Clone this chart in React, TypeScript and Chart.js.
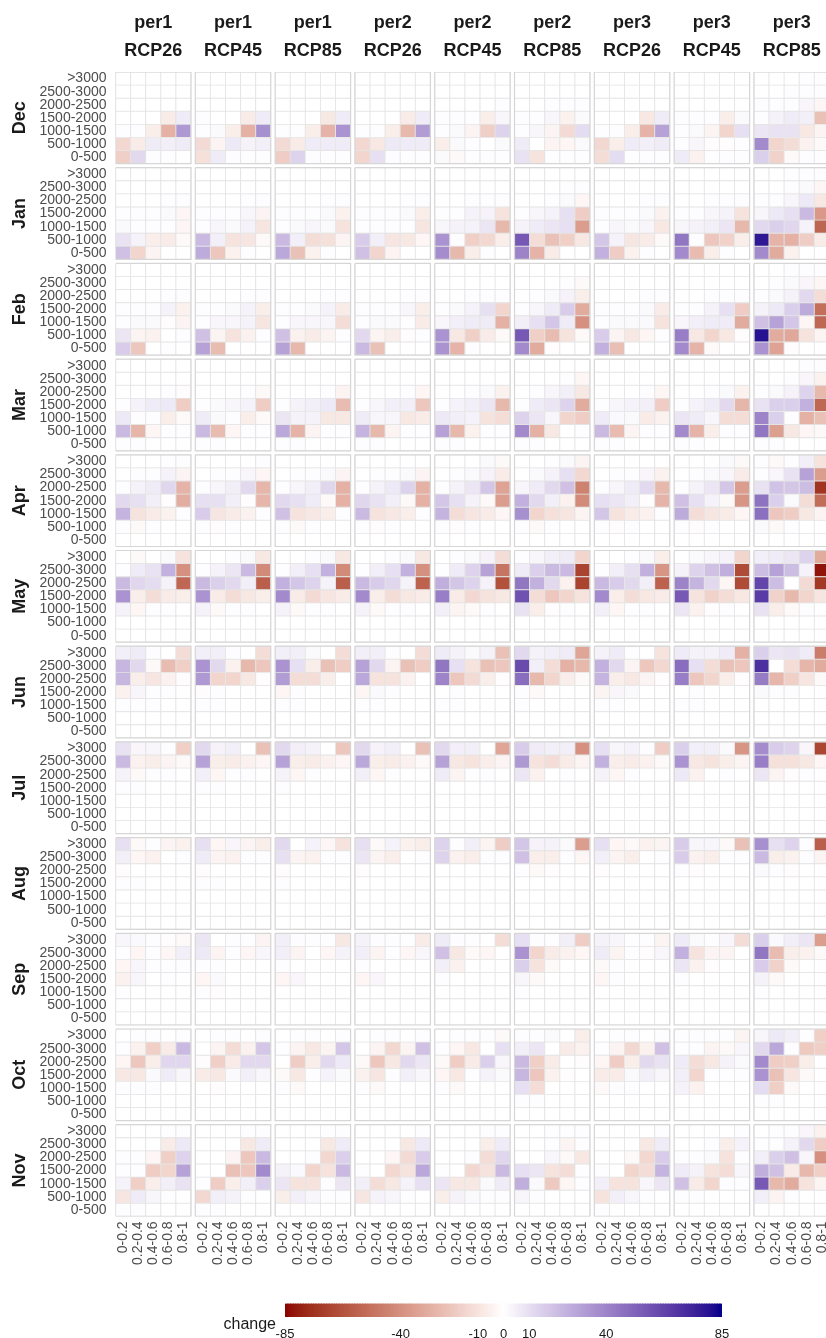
import React, { useEffect, useRef } from 'react';
import { Chart, registerables } from 'chart.js';

Chart.register(...registerables);

// ---------- categories / labels ----------
const MONTHS = ['Dec', 'Jan', 'Feb', 'Mar', 'Apr', 'May', 'Jun', 'Jul', 'Aug', 'Sep', 'Oct', 'Nov'];
const PERIODS = ['per1', 'per1', 'per1', 'per2', 'per2', 'per2', 'per3', 'per3', 'per3'];
const SCENARIOS = ['RCP26', 'RCP45', 'RCP85', 'RCP26', 'RCP45', 'RCP85', 'RCP26', 'RCP45', 'RCP85'];
const ELEVATION_BANDS = ['>3000', '2500-3000', '2000-2500', '1500-2000', '1000-1500', '500-1000', '0-500'];
const FRACTION_BINS = ['0-0.2', '0.2-0.4', '0.4-0.6', '0.6-0.8', '0.8-1'];
const LEGEND_BREAKS = [-85, -40, -10, 0, 10, 40, 85];
const LIMIT = 85;

// ---------- values: each month = 9 panels, each panel = 7 elevation rows (top >3000 .. bottom 0-500) x 5 fraction bins ----------
const DEC = [
  [0,0,0,0,0, 0,0,0,0,0, 0,0,0,0,0, 0,0,0,-7,6, 1,1,-6,-28,33, -14,-7,6,5,6, -17,12,1,1,0],
  [0,0,0,0,0, 0,0,0,0,0, 0,0,0,0,0, 1,0,0,-7,6, 1,2,-6,-28,36, -13,-4,7,4,5, -11,6,1,1,1],
  [0,0,0,0,0, 0,0,0,0,0, 0,0,0,0,0, 0,0,0,-8,6, 1,1,-6,-27,35, -13,-7,6,6,6, -18,14,1,1,1],
  [0,0,0,0,0, 0,0,0,0,0, 0,0,0,0,0, 0,0,0,-7,6, 1,1,-6,-25,32, -14,-8,7,6,6, -15,10,1,1,1],
  [0,0,0,0,0, 0,0,0,0,0, 0,0,0,0,1, 1,1,1,-6,3, 1,2,-4,-17,14, -6,2,1,0,2, 2,-2,1,1,1],
  [0,0,0,0,0, 0,0,0,0,0, 0,0,1,1,1, 1,1,3,-5,2, 1,3,-4,-13,11, 6,0,-4,-3,2, 9,-10,1,1,1],
  [0,0,0,0,0, 0,0,0,0,0, 0,0,0,0,0, 0,0,0,-8,6, 1,1,-6,-27,30, -14,-6,6,5,6, -12,11,1,1,1],
  [0,0,0,0,0, 0,0,0,0,0, 0,0,0,0,0, 1,1,1,-6,2, 1,2,-4,-15,10, 1,3,-1,-1,1, 6,-5,1,1,1],
  [0,0,0,1,1, 0,0,1,1,1, 1,1,1,3,-3, 1,4,6,5,-22, 8,9,9,-8,-4, 38,-15,-12,-5,-2, 15,-16,-2,1,1],
];
const JAN = [
  [0,0,0,0,0, 0,0,0,0,0, 0,0,0,1,1, 1,1,1,2,-3, 2,1,1,1,-3, 9,4,-6,-7,-2, 20,-15,-4,0,0],
  [0,0,0,0,0, 0,0,0,0,0, 0,0,0,1,1, 1,1,1,3,-4, 1,3,2,4,-9, 22,5,-10,-9,-2, 27,-20,-5,1,0],
  [0,0,0,0,0, 0,0,0,0,0, 0,0,0,1,1, 1,1,1,2,-5, 1,2,3,2,-10, 22,5,-12,-11,-4, 28,-22,-5,1,0],
  [0,0,0,0,0, 0,0,0,0,0, 0,0,0,1,1, 1,1,1,2,-6, 1,1,1,1,-9, 16,5,-9,-8,-3, 20,-15,-4,0,0],
  [0,0,0,0,0, 0,0,0,0,0, 0,0,1,1,1, 1,1,4,4,-10, 3,4,4,8,-25, 35,1,-17,-14,-6, 37,-25,-6,1,0],
  [0,0,0,0,0, 0,0,0,1,1, 0,0,1,2,-3, 1,3,4,10,-18, 4,6,8,10,-35, 55,-12,-22,-17,-8, 40,-27,-7,0,0],
  [0,0,0,0,0, 0,0,0,0,0, 0,0,0,1,1, 1,1,1,2,-5, 1,3,2,3,-8, 18,4,-9,-7,-2, 25,-18,-5,1,0],
  [0,0,0,0,0, 0,0,0,0,0, 0,0,1,1,1, 1,1,3,4,-10, 3,4,5,8,-25, 45,1,-20,-16,-6, 38,-24,-6,1,0],
  [0,0,1,1,1, 0,0,1,2,-3, 1,1,3,7,-8, 3,7,10,22,-37, 12,15,13,4,-56, 78,-27,-28,-18,-7, 38,-30,-5,0,0],
];
const FEB = [
  [0,0,0,0,0, 0,0,0,0,0, 0,0,0,1,1, 1,1,1,4,-5, 1,2,2,-1,-4, 8,-4,-5,0,1, 16,-20,0,1,0],
  [0,0,0,0,0, 0,0,0,0,0, 0,0,0,1,1, 1,1,2,4,-6, 1,3,3,4,-9, 20,-4,-10,-5,1, 30,-24,0,0,0],
  [0,0,0,0,0, 0,0,0,0,0, 0,0,0,1,1, 1,1,2,4,-7, 1,3,3,3,-12, 20,-5,-7,-4,1, 30,-25,0,0,0],
  [0,0,0,0,0, 0,0,0,0,0, 0,0,0,1,1, 1,1,1,3,-6, 1,2,2,1,-7, 12,-4,-6,-1,1, 22,-22,0,0,0],
  [0,0,0,0,0, 0,0,0,0,0, 0,0,1,1,1, 1,2,4,10,-15, 3,5,6,6,-28, 35,-8,-17,-7,-2, 35,-27,1,0,0],
  [0,0,0,0,0, 0,0,0,1,-2, 0,1,2,4,-6, 1,3,6,16,-30, 5,10,18,6,-40, 55,-17,-24,-10,-2, 38,-30,-1,0,0],
  [0,0,0,0,0, 0,0,0,0,0, 0,0,0,1,1, 1,1,1,2,-7, 1,2,2,2,-10, 16,-4,-8,-3,1, 25,-23,0,0,0],
  [0,0,0,0,0, 0,0,0,0,0, 0,0,1,1,1, 1,1,4,10,-18, 3,5,6,6,-30, 42,-8,-15,-8,-1, 38,-27,-2,0,0],
  [0,0,1,1,1, 0,1,2,3,-3, 1,2,4,12,-12, 4,7,15,27,-52, 20,30,18,-3,-55, 80,-30,-31,-10,-4, 35,-33,-1,0,0],
];
const MAR = [
  [0,0,0,0,0, 0,0,0,0,0, 0,0,0,1,-1, 1,4,6,7,-18, 7,1,1,-6,-2, 22,-26,-3,1,1, 1,1,0,0,0],
  [0,0,0,0,0, 0,0,0,0,0, 0,0,0,1,-2, 1,2,3,4,-18, 6,2,1,-6,-2, 22,-24,-3,1,1, 1,1,0,0,0],
  [0,0,0,0,0, 0,0,0,0,0, 0,0,0,1,-4, 1,4,5,7,-24, 8,4,4,-8,-8, 28,-27,-4,1,1, 1,1,0,0,0],
  [0,0,0,0,0, 0,0,0,0,0, 0,0,0,1,-3, 1,3,5,5,-20, 6,3,3,-8,-7, 24,-25,-4,1,1, 1,1,0,0,0],
  [0,0,0,0,0, 0,0,0,0,0, 0,0,1,2,-5, 1,4,5,8,-25, 7,5,4,-10,-12, 30,-25,-5,1,1, 1,1,0,0,0],
  [0,0,0,0,0, 0,0,0,1,-3, 0,1,3,5,-8, 1,6,8,14,-30, 14,8,3,-15,-18, 38,-28,-8,0,1, 1,1,0,0,0],
  [0,0,0,0,0, 0,0,0,0,0, 0,0,0,1,-3, 1,3,4,5,-18, 6,2,2,-7,-5, 22,-24,-4,1,1, 1,1,0,0,0],
  [0,0,0,0,0, 0,0,0,0,0, 0,0,1,2,-5, 1,4,6,12,-26, 8,6,3,-12,-12, 38,-27,-6,1,1, 1,1,0,0,0],
  [0,0,0,1,1, 0,0,1,3,-5, 1,2,4,14,-25, 9,15,15,25,-55, 40,15,1,-28,-22, 45,-34,-8,-3,-2, 1,1,0,0,0],
];
const APR = [
  [0,0,0,1,1, 0,1,1,4,-4, 1,4,6,13,-27, 12,10,5,-1,-29, 24,-10,-7,-5,1, 1,-2,1,0,0, 0,0,0,0,0],
  [0,0,0,0,1, 0,1,1,3,-3, 1,3,5,12,-26, 10,10,5,-1,-26, 16,-9,-7,-5,1, 1,-1,1,0,0, 0,0,0,0,0],
  [0,0,0,0,0, 0,1,1,2,-4, 1,3,5,13,-28, 12,10,6,-2,-28, 20,-10,-8,-6,1, 1,-2,1,0,0, 0,0,0,0,0],
  [0,0,0,0,0, 0,1,1,2,-4, 1,4,7,14,-28, 13,9,5,-2,-28, 22,-10,-8,-6,1, 1,-1,1,0,0, 0,0,0,0,0],
  [0,0,0,2,-2, 0,1,2,4,-7, 1,4,8,18,-33, 18,10,4,-2,-35, 24,-12,-9,-7,-3, 1,-1,1,0,0, 0,0,0,0,0],
  [0,0,1,2,-4, 0,2,4,10,-14, 3,6,12,20,-45, 25,12,5,-5,-42, 36,-15,-11,-9,-4, 1,-2,1,0,0, 0,0,0,0,0],
  [0,0,0,0,0, 0,1,1,3,-5, 1,3,6,12,-25, 10,8,5,-1,-27, 18,-10,-7,-5,1, 1,-1,1,0,0, 0,0,0,0,0],
  [0,0,0,2,-2, 0,1,2,3,-7, 1,4,8,18,-35, 20,10,4,-2,-38, 27,-12,-9,-7,-3, 1,-1,1,0,0, 0,0,0,0,0],
  [1,-2,1,5,-10, 1,3,9,30,-35, 9,19,18,21,-73, 46,15,2,-12,-53, 47,-20,-18,-8,-4, 2,-2,1,0,0, 0,0,0,0,0],
];
const MAY = [
  [0,-2,0,2,-10, 1,6,9,25,-40, 22,13,11,4,-55, 35,-6,-12,-7,-6, 4,-3,1,1,0, 0,0,0,0,0, 0,0,0,0,0],
  [0,0,1,2,-8, 1,4,8,22,-42, 22,15,12,5,-58, 35,-7,-12,-8,-6, 4,-2,1,1,0, 0,0,0,0,0, 0,0,0,0,0],
  [0,0,1,2,-8, 1,5,10,25,-42, 25,18,14,4,-58, 38,-7,-13,-9,-7, 4,-2,1,1,0, 0,0,0,0,0, 0,0,0,0,0],
  [0,0,1,2,-8, 1,5,10,25,-40, 22,16,13,4,-57, 38,-6,-12,-8,-7, 4,-2,1,1,0, 0,0,0,0,0, 0,0,0,0,0],
  [0,1,2,4,-12, 1,6,14,30,-50, 26,18,14,4,-63, 42,-7,-14,-10,-8, 5,-4,-2,1,0, 0,0,0,0,0, 0,0,0,0,0],
  [1,3,5,6,-15, 6,15,22,22,-68, 45,25,12,-5,-68, 58,-12,-20,-15,-10, 9,-6,-1,1,0, 0,0,0,0,0, 0,0,0,0,0],
  [0,0,1,2,-6, 1,5,10,25,-38, 22,16,12,5,-57, 38,-6,-12,-8,-7, 5,-3,1,1,0, 0,0,0,0,0, 0,0,0,0,0],
  [0,2,3,4,-15, 4,14,20,26,-65, 40,24,12,-3,-65, 55,-10,-16,-12,-8, 8,-5,-1,1,0, 0,0,0,0,0, 0,0,0,0,0],
  [5,6,8,14,-30, 21,30,21,4,-82, 62,21,0,-13,-72, 66,-16,-25,-15,-9, 9,-6,-2,1,0, 0,0,0,0,0, 0,0,0,0,0],
];
const JUN = [
  [5,6,1,0,-12, 23,12,-2,-24,-17, 23,-6,-9,-5,-1, -5,3,1,1,0, 1,1,1,0,0, 0,0,0,0,0, 0,0,0,0,0],
  [5,5,1,0,-12, 35,12,-5,-25,-20, 33,-15,-15,-8,-1, -1,1,0,0,0, 1,1,0,0,0, 0,0,0,0,0, 0,0,0,0,0],
  [5,5,2,0,-12, 35,10,-6,-22,-18, 32,-12,-12,-6,0, -3,1,0,0,0, 1,1,0,0,0, 0,0,0,0,0, 0,0,0,0,0],
  [5,5,1,0,-12, 30,12,-4,-22,-18, 28,-10,-10,-5,0, -3,2,1,0,0, 1,1,0,0,0, 0,0,0,0,0, 0,0,0,0,0],
  [6,4,2,4,-22, 45,10,-10,-22,-20, 40,-20,-13,-6,-1, 0,1,0,0,0, 1,1,0,0,0, 0,0,0,0,0, 0,0,0,0,0],
  [12,4,5,6,-32, 60,5,-12,-28,-25, 48,-25,-15,-6,-2, 1,-2,0,0,0, 1,0,0,0,0, 0,0,0,0,0, 0,0,0,0,0],
  [4,6,1,0,-10, 25,12,-4,-20,-14, 24,-6,-8,-4,-1, -4,3,2,0,0, 1,1,0,0,0, 0,0,0,0,0, 0,0,0,0,0],
  [6,4,4,6,-28, 48,10,-12,-22,-20, 42,-20,-15,-6,-1, 0,1,0,0,0, 1,1,0,0,0, 0,0,0,0,0, 0,0,0,0,0],
  [15,8,9,6,-47, 70,0,-12,-26,-30, 43,-26,-17,-9,-2, 2,1,1,0,0, 0,0,0,0,0, 0,0,0,0,0, 0,0,0,0,0],
];
const JUL = [
  [9,3,3,1,-17, 22,-5,-6,-4,-2, 4,-2,1,1,0, 1,1,0,0,0, 0,0,0,0,0, 0,0,0,0,0, 0,0,0,0,0],
  [12,4,5,0,-22, 30,-6,-7,-5,-3, 5,-3,1,1,0, 1,1,0,0,0, 0,0,0,0,0, 0,0,0,0,0, 0,0,0,0,0],
  [12,5,4,0,-20, 30,-6,-7,-5,-3, 4,-3,1,0,0, 1,0,0,0,0, 0,0,0,0,0, 0,0,0,0,0, 0,0,0,0,0],
  [12,4,5,0,-22, 28,-6,-7,-5,-2, 5,-3,1,0,0, 0,0,0,0,0, 0,0,0,0,0, 0,0,0,0,0, 0,0,0,0,0],
  [12,5,5,0,-32, 30,-8,-10,-6,-4, 6,-4,1,1,0, 0,0,0,0,0, 0,0,0,0,0, 0,0,0,0,0, 0,0,0,0,0],
  [16,6,5,5,-40, 33,-10,-12,-7,-4, 8,-5,0,1,0, 0,0,0,0,0, 0,0,0,0,0, 0,0,0,0,0, 0,0,0,0,0],
  [10,3,4,1,-18, 25,-6,-7,-5,-2, 4,-3,1,0,0, 0,0,0,0,0, 0,0,0,0,0, 0,0,0,0,0, 0,0,0,0,0],
  [15,5,5,2,-38, 35,-8,-10,-6,-4, 7,-5,0,1,0, 0,0,0,0,0, 0,0,0,0,0, 0,0,0,0,0, 0,0,0,0,0],
  [37,16,14,3,-67, 42,-11,-11,-8,-3, 8,-4,-1,1,0, 0,0,0,0,0, 0,0,0,0,0, 0,0,0,0,0, 0,0,0,0,0],
];
const AUG = [
  [10,-2,1,-4,-5, 5,-3,-5,0,1, -1,0,0,0,0, 1,1,0,0,0, 0,0,0,0,0, 0,0,0,0,0, 0,0,0,0,0],
  [10,-3,3,-4,-6, 6,-4,-5,1,1, -1,0,0,0,0, 1,1,0,0,0, 0,0,0,0,0, 0,0,0,0,0, 0,0,0,0,0],
  [12,0,4,-3,-10, 10,-4,-5,1,1, -1,0,0,0,0, 1,0,0,0,0, 0,0,0,0,0, 0,0,0,0,0, 0,0,0,0,0],
  [10,-2,4,-5,-6, 8,-4,-6,0,1, -1,0,0,0,0, 0,0,0,0,0, 0,0,0,0,0, 0,0,0,0,0, 0,0,0,0,0],
  [14,1,5,-4,-18, 14,-5,-6,1,1, 0,0,0,0,0, 0,0,0,0,0, 0,0,0,0,0, 0,0,0,0,0, 0,0,0,0,0],
  [18,4,4,2,-35, 20,-6,-6,1,-3, 1,-2,-1,0,0, 0,0,0,0,0, 0,0,0,0,0, 0,0,0,0,0, 0,0,0,0,0],
  [10,-3,-2,-5,-4, 5,-4,-6,0,1, -1,0,0,0,0, 0,0,0,0,0, 0,0,0,0,0, 0,0,0,0,0, 0,0,0,0,0],
  [16,3,3,-2,-22, 16,-5,-6,1,1, 1,-1,0,0,0, 0,0,0,0,0, 0,0,0,0,0, 0,0,0,0,0, 0,0,0,0,0],
  [36,10,14,1,-58, 22,-6,-5,1,-4, 2,1,-1,0,0, 0,0,0,0,0, 0,0,0,0,0, 0,0,0,0,0, 0,0,0,0,0],
];
const SEP = [
  [3,2,1,-1,-2, 1,-3,1,-3,5, -3,3,1,1,1, -5,3,0,1,0, 1,0,0,0,0, 0,0,0,0,0, 0,0,0,0,0],
  [8,0,1,1,-4, 7,-4,1,-3,3, 1,1,0,0,0, -3,2,0,0,0, 1,-1,0,0,0, 0,0,0,0,0, 0,0,0,0,0],
  [5,1,1,1,-8, 5,-4,0,-3,4, 1,0,0,0,0, -3,3,0,0,0, 0,0,0,0,0, 0,0,0,0,0, 0,0,0,0,0],
  [4,1,1,1,-7, 5,-4,1,-3,3, 1,0,0,0,0, -3,3,0,0,0, 0,0,0,0,0, 0,0,0,0,0, 0,0,0,0,0],
  [6,1,1,0,-12, 20,-8,-2,-3,0, 5,-5,0,0,0, 1,0,0,0,0, 0,0,0,0,0, 0,0,0,0,0, 0,0,0,0,0],
  [10,1,1,5,-18, 35,-15,-7,-5,-3, 15,-10,-2,0,0, 3,-2,0,0,0, 1,0,0,0,0, 0,0,0,0,0, 0,0,0,0,0],
  [4,3,1,1,-4, 6,-4,1,-1,3, -2,1,0,0,0, -3,1,0,0,0, 0,0,0,0,0, 0,0,0,0,0, 0,0,0,0,0],
  [6,2,1,3,-12, 25,-10,-4,-4,0, 8,-5,-1,0,0, 1,0,0,0,0, 0,0,0,0,0, 0,0,0,0,0, 0,0,0,0,0],
  [15,2,5,8,-35, 45,-24,-6,-5,-2, 16,-16,-2,0,0, 4,-2,0,0,0, 1,0,0,0,0, 0,0,0,0,0, 0,0,0,0,0],
];
const OCT = [
  [0,1,1,0,1, 1,-5,-17,-7,22, -3,-20,-6,13,13, -8,-8,2,6,3, 1,1,1,0,0, 0,0,0,0,0, 0,0,0,0,0],
  [0,1,1,0,1, 0,-4,-12,-5,18, -1,-17,-7,12,12, -7,-8,2,5,3, 0,-1,0,0,0, 0,0,0,0,0, 0,0,0,0,0],
  [0,1,1,0,1, 1,-4,-8,-4,18, 0,-18,-6,12,7, -2,-8,1,4,2, 1,-2,0,0,0, 0,0,0,0,0, 0,0,0,0,0],
  [0,1,1,0,1, 0,-4,-14,-4,20, -2,-20,-8,12,8, -5,-9,1,5,3, 1,-2,0,0,0, 0,0,0,0,0, 0,0,0,0,0],
  [0,1,1,1,-2, 1,-3,-8,0,10, -2,-18,-7,15,3, -3,-8,1,4,2, 1,-2,0,0,0, 0,0,0,0,0, 0,0,0,0,0],
  [1,1,2,0,-6, 5,8,0,-7,-5, 22,-17,-7,0,-1, 23,-20,-5,-1,0, 10,-12,0,0,0, 1,1,0,0,0, 0,0,0,0,0],
  [0,1,1,0,1, 1,-4,-14,-5,20, -3,-18,-6,12,9, -7,-7,2,5,3, -2,1,1,0,0, 0,0,0,0,0, 0,0,0,0,0],
  [1,1,1,1,-4, 1,1,-4,-2,3, 6,-12,-8,4,2, 5,-15,1,1,1, 4,-5,0,0,0, 0,0,0,0,0, 0,0,0,0,0],
  [3,7,5,1,-17, 12,28,1,-19,-17, 38,-18,-17,-6,0, 35,-22,-9,-2,0, 11,-17,-2,0,0, 1,1,0,0,0, 0,0,0,0,0],
];
const NOV = [
  [0,0,0,1,1, 0,0,0,-7,7, 1,1,-3,-17,14, 1,1,-18,-15,30, 4,-17,-6,5,9, -9,6,3,1,0, 1,1,0,0,0],
  [0,0,0,1,1, 0,0,0,-8,6, 0,0,-4,-20,22, 0,0,-22,-20,38, 1,-18,-6,5,15, -14,5,4,1,0, 1,1,0,0,0],
  [0,0,0,1,1, 0,0,0,-8,6, 0,0,1,-14,15, 4,2,-15,-10,22, 8,-10,-10,1,8, -6,5,3,1,1, 0,0,0,0,0],
  [0,0,0,0,1, 0,0,0,-8,7, 0,0,-3,-13,16, 1,0,-14,-10,28, 5,-12,-8,4,10, -9,4,3,1,0, 0,0,0,0,0],
  [0,0,0,1,1, 0,0,0,-6,6, 0,0,1,-12,13, 1,0,-14,-10,22, 8,-8,-8,2,6, -6,4,2,1,1, 0,0,0,0,0],
  [0,0,1,1,1, 0,0,1,-4,1, 0,0,3,-2,-8, 10,8,-10,-12,1, 26,2,-19,-3,1, 3,1,0,0,0, 0,0,0,0,0],
  [0,0,0,0,1, 0,0,0,-8,6, 0,0,-2,-14,16, 1,0,-15,-12,24, 5,-10,-10,3,8, -10,5,3,1,0, 1,0,0,0,0],
  [0,0,0,0,1, 0,0,1,-6,4, 1,1,2,-10,1, 6,4,-10,-12,3, 20,-7,-15,1,1, 1,1,0,0,0, 0,0,0,0,0],
  [0,1,1,3,-5, 1,1,4,12,-18, 5,15,20,3,-40, 26,20,-7,-25,-17, 55,-25,-30,-10,-4, 5,-4,1,0,0, 0,0,0,0,0],
];
const CHANGE_BY_MONTH = [DEC, JAN, FEB, MAR, APR, MAY, JUN, JUL, AUG, SEP, OCT, NOV];

// ---------- layout in axis units ----------
const PANEL_GAP = 0.285;
const PANEL_PITCH = FRACTION_BINS.length + PANEL_GAP;
const X_MAX = (PERIODS.length - 1) * PANEL_PITCH + FRACTION_BINS.length;
const MONTH_GAP = 0.305;
const MONTH_PITCH = ELEVATION_BANDS.length + MONTH_GAP;
const Y_MAX = (MONTHS.length - 1) * MONTH_PITCH + ELEVATION_BANDS.length;
const FONT = "'Liberation Sans', Arial, Helvetica, sans-serif";
const CANVAS_W = 835;
const CANVAS_H = 1300;
const AREA = { left: 115.5, top: 72, right: 829.4, bottom: 1216.4 };
const MONTH_AXIS_W = 38;

// ---------- diverging colour scale (Lab interpolation, like ggplot gradient2) ----------
const XN = 0.95047, YN = 1, ZN = 1.08883;
const toLin = (c: number) => { c /= 255; return c <= 0.04045 ? c / 12.92 : Math.pow((c + 0.055) / 1.055, 2.4); };
const fromLin = (c: number) => {
  const v = c <= 0.0031308 ? 12.92 * c : 1.055 * Math.pow(c, 1 / 2.4) - 0.055;
  return Math.round(Math.min(1, Math.max(0, v)) * 255);
};
const fLab = (t: number) => (t > 0.008856 ? Math.cbrt(t) : 7.787 * t + 16 / 116);
const fInv = (t: number) => { const t3 = t * t * t; return t3 > 0.008856 ? t3 : (t - 16 / 116) / 7.787; };
function rgbToLab(rgb: number[]) {
  const [r, g, b] = rgb.map(toLin);
  const X = (0.4124564 * r + 0.3575761 * g + 0.1804375 * b) / XN;
  const Y = (0.2126729 * r + 0.7151522 * g + 0.072175 * b) / YN;
  const Z = (0.0193339 * r + 0.119192 * g + 0.9503041 * b) / ZN;
  const fx = fLab(X), fy = fLab(Y), fz = fLab(Z);
  return [116 * fy - 16, 500 * (fx - fy), 200 * (fy - fz)];
}
function labToRgb(lab: number[]) {
  const [L, a, bb] = lab;
  const fy = (L + 16) / 116, fx = fy + a / 500, fz = fy - bb / 200;
  const X = XN * fInv(fx), Y = YN * fInv(fy), Z = ZN * fInv(fz);
  const r = 3.2404542 * X - 1.5371385 * Y - 0.4985314 * Z;
  const g = -0.969266 * X + 1.8760108 * Y + 0.041556 * Z;
  const b = 0.0556434 * X - 0.2040259 * Y + 1.0572252 * Z;
  return [fromLin(r), fromLin(g), fromLin(b)];
}
const LAB_LOW = rgbToLab([139, 0, 0]);
const LAB_MID = rgbToLab([255, 255, 255]);
const LAB_HIGH = rgbToLab([0, 0, 139]);
function colorFor(v: number) {
  const t = Math.min(1, Math.abs(v) / LIMIT);
  const end = v < 0 ? LAB_LOW : LAB_HIGH;
  const [r, g, b] = labToRgb(LAB_MID.map((m, i) => m + (end[i] - m) * t));
  return `rgb(${r},${g},${b})`;
}

// pin the plot area and the axis boxes to fixed pixel positions
const fixedLayout = {
  id: 'fixedLayout',
  afterLayout(chart: any) {
    const { left, top, right, bottom } = AREA;
    Object.assign(chart.chartArea, { left, top, right, bottom, width: right - left, height: bottom - top });
    const place = (id: string, l: number, t: number, r: number, b: number) => {
      const s = chart.scales[id];
      if (!s) return;
      s.left = l; s.top = t; s.right = r; s.bottom = b;
      s.width = r - l; s.height = b - t;
      s.configure();
    };
    place('x', left, bottom, right, chart.height);
    place('xStrip', left, 0, right, top);
    place('y', MONTH_AXIS_W, top, left, bottom);
    place('yMonth', 0, top, MONTH_AXIS_W, bottom);
  },
};

function HeatmapGrid() {
  const ref = useRef<HTMLCanvasElement>(null);
  useEffect(() => {
    const cells: any[] = [];
    const fills: string[] = [];
    CHANGE_BY_MONTH.forEach((panels, m) =>
      panels.forEach((vals, p) =>
        vals.forEach((v, k) => {
          const r = Math.floor(k / FRACTION_BINS.length);
          const c = k % FRACTION_BINS.length;
          const y0 = m * MONTH_PITCH + r;
          cells.push({ x: p * PANEL_PITCH + c + 0.5, y: [y0, y0 + 1] });
          fills.push(colorFor(v));
        })
      )
    );
    const frames: any[] = [];
    MONTHS.forEach((_, m) =>
      PERIODS.forEach((__, p) => {
        const x0 = p * PANEL_PITCH, x1 = x0 + FRACTION_BINS.length;
        const y0 = m * MONTH_PITCH, y1 = y0 + ELEVATION_BANDS.length;
        frames.push({ x: x0, y: y0 }, { x: x1, y: y0 }, { x: x1, y: y1 }, { x: x0, y: y1 }, { x: x0, y: y0 }, { x: x0, y: null });
      })
    );
    const colTicks: any[] = [];
    PERIODS.forEach((_, p) => FRACTION_BINS.forEach((__, c) => colTicks.push({ value: p * PANEL_PITCH + c + 0.5 })));
    const panelTicks = PERIODS.map((_, p) => ({ value: p * PANEL_PITCH + FRACTION_BINS.length / 2 }));
    const rowTicks: any[] = [];
    MONTHS.forEach((_, m) => ELEVATION_BANDS.forEach((__, r) => rowTicks.push({ value: m * MONTH_PITCH + r + 0.5 })));
    const monthTicks = MONTHS.map((_, m) => ({ value: m * MONTH_PITCH + ELEVATION_BANDS.length / 2 }));
    const noGrid = { display: false, drawTicks: false, offset: false };

    const chart = new Chart(ref.current as HTMLCanvasElement, {
      type: 'bar',
      data: {
        datasets: [
          {
            type: 'line',
            data: frames,
            borderColor: '#d6d6d6',
            borderWidth: 1.2,
            pointRadius: 0,
            fill: false,
            spanGaps: false,
            order: 0,
            xAxisID: 'x',
            yAxisID: 'y',
          } as any,
          {
            type: 'bar',
            data: cells,
            backgroundColor: fills,
            borderColor: '#e4e4e4',
            borderWidth: 0.8,
            borderSkipped: false,
            barPercentage: 1,
            categoryPercentage: 1,
            order: 1,
            xAxisID: 'x',
            yAxisID: 'y',
          } as any,
        ],
      },
      plugins: [fixedLayout as any],
      options: {
        animation: false,
        responsive: false,
        maintainAspectRatio: false,
        events: [],
        layout: { padding: { left: 0, top: 0, right: 20, bottom: 0 }, autoPadding: false } as any,
        plugins: { legend: { display: false }, tooltip: { enabled: false } },
        scales: {
          x: {
            type: 'linear',
            position: 'bottom',
            offset: false,
            min: 0,
            max: X_MAX,
            grid: noGrid,
            border: { display: false },
            ticks: {
              autoSkip: false,
              minRotation: 90,
              maxRotation: 90,
              padding: 5,
              color: '#4d4d4d',
              font: { family: FONT, size: 14 },
              callback: (_v: any, i: number) => FRACTION_BINS[i % FRACTION_BINS.length],
            },
            afterBuildTicks: (s: any) => { s.ticks = colTicks.map((t) => ({ ...t })); },
            afterFit: (s: any) => { s.height = CANVAS_H - AREA.bottom; },
          },
          xStrip: {
            type: 'linear',
            position: 'top',
            offset: false,
            min: 0,
            max: X_MAX,
            grid: noGrid,
            border: { display: false },
            ticks: {
              autoSkip: false,
              minRotation: 0,
              maxRotation: 0,
              padding: 7,
              color: '#1a1a1a',
              font: { family: FONT, size: 18, weight: 'bold', lineHeight: 1.5556 },
              callback: (_v: any, i: number) => [PERIODS[i], SCENARIOS[i]],
            },
            afterBuildTicks: (s: any) => { s.ticks = panelTicks.map((t) => ({ ...t })); },
            afterFit: (s: any) => { s.height = AREA.top; },
          },
          y: {
            type: 'linear',
            position: 'left',
            offset: false,
            reverse: true,
            min: 0,
            max: Y_MAX,
            weight: 0,
            grid: noGrid,
            border: { display: false },
            ticks: {
              autoSkip: false,
              padding: 9,
              color: '#4d4d4d',
              font: { family: FONT, size: 14 },
              callback: (_v: any, i: number) => ELEVATION_BANDS[i % ELEVATION_BANDS.length],
            },
            afterBuildTicks: (s: any) => { s.ticks = rowTicks.map((t) => ({ ...t })); },
            afterFit: (s: any) => { s.width = AREA.left - MONTH_AXIS_W; },
          },
          yMonth: {
            type: 'linear',
            position: 'left',
            offset: false,
            reverse: true,
            min: 0,
            max: Y_MAX,
            weight: 1,
            grid: noGrid,
            border: { display: false },
            ticks: {
              autoSkip: false,
              minRotation: 90,
              maxRotation: 90,
              crossAlign: 'center',
              padding: 0.5,
              color: '#1a1a1a',
              font: { family: FONT, size: 18, weight: 'bold' },
              callback: (_v: any, i: number) => MONTHS[i],
            },
            afterBuildTicks: (s: any) => { s.ticks = monthTicks.map((t) => ({ ...t })); },
            afterFit: (s: any) => { s.width = MONTH_AXIS_W; },
          },
        } as any,
      },
    });
    return () => chart.destroy();
  }, []);
  return <canvas ref={ref} width={CANVAS_W} height={CANVAS_H} style={{ position: 'absolute', left: 0, top: 0 }} />;
}

function ColorLegend() {
  const ref = useRef<HTMLCanvasElement>(null);
  useEffect(() => {
    const segs: any[] = [];
    const cols: string[] = [];
    for (let v = -LIMIT; v < LIMIT; v += 1) {
      segs.push({ x: [v, Math.min(LIMIT, v + 1.3)], y: 'change' });
      cols.push(colorFor(v + 0.5));
    }
    const breakTicks = () => LEGEND_BREAKS.map((v) => ({ value: v }));
    const tickGrid = {
      display: true,
      drawOnChartArea: false,
      drawTicks: true,
      tickLength: -5,
      lineWidth: 1.5,
      color: (ctx: any) => (ctx.tick && Math.abs(ctx.tick.value) === LIMIT ? 'rgba(0,0,0,0)' : '#ffffff'),
    };
    const chart = new Chart(ref.current as HTMLCanvasElement, {
      type: 'bar',
      data: {
        labels: ['change'],
        datasets: [
          {
            data: segs,
            backgroundColor: cols,
            borderWidth: 0,
            barPercentage: 1,
            categoryPercentage: 1,
            grouped: false,
          } as any,
        ],
      },
      options: {
        indexAxis: 'y',
        animation: false,
        responsive: false,
        maintainAspectRatio: false,
        events: [],
        layout: { padding: { left: 0, top: 0, right: 38, bottom: 0 }, autoPadding: false } as any,
        plugins: { legend: { display: false }, tooltip: { enabled: false } },
        scales: {
          x: {
            type: 'linear',
            position: 'bottom',
            offset: false,
            min: -LIMIT,
            max: LIMIT,
            z: 1,
            grid: tickGrid,
            border: { display: false },
            ticks: {
              autoSkip: false,
              maxRotation: 0,
              padding: 15,
              color: '#1a1a1a',
              font: { family: FONT, size: 13 },
              callback: (_v: any, i: number) => String(LEGEND_BREAKS[i]),
            },
            afterBuildTicks: (s: any) => { s.ticks = breakTicks(); },
            afterFit: (s: any) => { s.height = 21; },
          },
          xTop: {
            type: 'linear',
            position: 'top',
            offset: false,
            min: -LIMIT,
            max: LIMIT,
            z: 1,
            grid: tickGrid,
            border: { display: false },
            ticks: { display: false },
            afterBuildTicks: (s: any) => { s.ticks = breakTicks(); },
            afterFit: (s: any) => { s.height = 10; },
          },
          y: {
            type: 'category',
            position: 'left',
            grid: { display: false, drawTicks: false },
            border: { display: false },
            ticks: {
              padding: 9,
              labelOffset: 14,
              color: '#1a1a1a',
              font: { family: FONT, size: 16 },
            },
            afterFit: (s: any) => { s.width = 85; },
          },
        } as any,
      },
    });
    return () => chart.destroy();
  }, []);
  return <canvas ref={ref} width={560} height={53} style={{ position: 'absolute', left: 200, top: 1285 }} />;
}

export default function App() {
  return (
    <div
      style={{
        position: 'absolute',
        left: 0,
        top: 0,
        width: 826,
        height: 1338,
        overflow: 'hidden',
        background: '#ffffff',
      }}
    >
      <HeatmapGrid />
      <ColorLegend />
    </div>
  );
}
